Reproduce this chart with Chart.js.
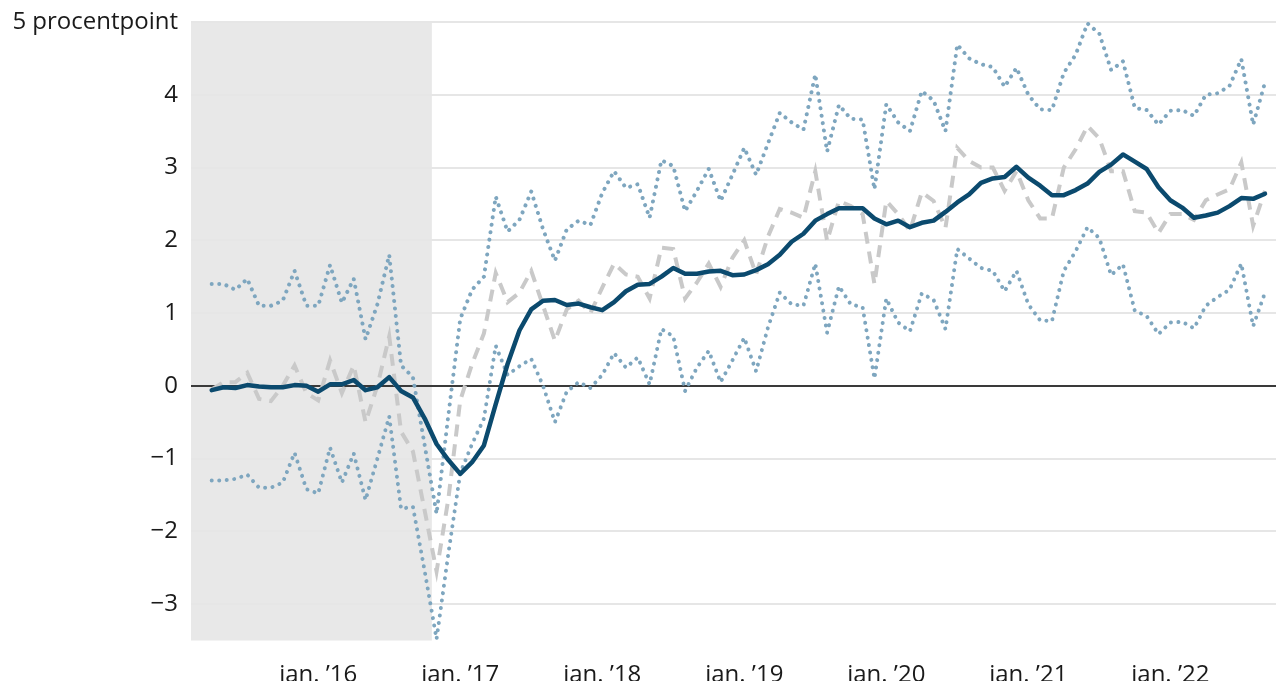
<!DOCTYPE html>
<html>
<head>
<meta charset="utf-8">
<script src="https://cdn.jsdelivr.net/npm/chart.js@4.4.1/dist/chart.umd.min.js"></script>
<style>
html,body{margin:0;padding:0;background:#fff;}
#wrap{width:1276px;height:681px;}
</style>
</head>
<body>
<div id="wrap"><canvas id="c" width="1276" height="681"></canvas></div>
<script>
// Monthly observations, April 2015 - September 2022
const firstMonth = [2015, 4];
const pointCount = 90;

const mainLine = [
 -0.06,-0.02,-0.03,0.01,-0.01,-0.02,-0.02,0.01,0.00,
 -0.08,0.02,0.02,0.08,-0.06,-0.02,0.12,-0.07,-0.16,-0.45,-0.80,-1.02,
 -1.21,-1.05,-0.82,-0.25,0.30,0.76,1.05,1.17,1.18,1.11,1.13,1.08,
 1.04,1.15,1.30,1.39,1.40,1.50,1.62,1.54,1.54,1.57,1.58,1.52,
 1.53,1.59,1.67,1.80,1.98,2.09,2.27,2.36,2.44,2.44,2.44,2.30,
 2.22,2.27,2.18,2.24,2.27,2.39,2.52,2.63,2.79,2.85,2.87,3.01,
 2.86,2.75,2.62,2.62,2.69,2.78,2.94,3.04,3.18,3.08,2.98,2.73,
 2.55,2.45,2.31,2.34,2.38,2.47,2.58,2.57,2.64
];
const upperBand = [
 1.40,1.40,1.32,1.47,1.10,1.10,1.17,1.58,1.10,
 1.10,1.66,1.14,1.47,0.64,1.12,1.80,0.28,0.12,-0.82,-1.76,-0.40,
 0.92,1.32,1.50,2.60,2.12,2.28,2.67,2.15,1.72,2.15,2.27,2.21,
 2.65,2.95,2.72,2.77,2.31,3.10,3.02,2.40,2.68,2.98,2.54,2.90,
 3.27,2.90,3.33,3.75,3.62,3.52,4.28,3.22,3.86,3.67,3.66,2.70,
 3.87,3.62,3.50,4.05,3.92,3.50,4.69,4.50,4.42,4.38,4.11,4.37,
 4.00,3.80,3.79,4.30,4.55,4.98,4.84,4.34,4.46,3.82,3.79,3.59,
 3.78,3.79,3.71,4.00,4.02,4.12,4.49,3.59,4.17
];
const lowerBand = [
 -1.30,-1.30,-1.28,-1.22,-1.40,-1.40,-1.33,-0.92,-1.42,
 -1.48,-0.85,-1.33,-0.93,-1.57,-1.00,-0.42,-1.69,-1.66,-2.55,-3.48,-2.30,
 -1.20,-0.80,-0.45,0.55,0.15,0.27,0.37,0.00,-0.50,-0.08,0.05,-0.03,
 0.15,0.45,0.25,0.39,0.02,0.78,0.68,-0.07,0.25,0.48,0.05,0.35,
 0.66,0.20,0.80,1.28,1.12,1.10,1.68,0.73,1.37,1.12,1.08,0.10,
 1.20,0.87,0.75,1.27,1.18,0.78,1.88,1.75,1.62,1.58,1.30,1.58,
 1.12,0.90,0.89,1.58,1.85,2.18,2.03,1.52,1.67,1.03,0.96,0.71,
 0.87,0.88,0.79,1.10,1.22,1.32,1.68,0.82,1.28
];
const grayLine = [
 -0.05,0.05,0.05,0.18,-0.18,-0.21,0.00,0.28,-0.10,
 -0.20,0.35,-0.10,0.28,-0.50,0.00,0.68,-0.63,-0.90,-1.72,-2.55,-1.55,
 -0.20,0.30,0.72,1.55,1.15,1.28,1.58,1.10,0.62,1.05,1.17,1.00,
 1.35,1.68,1.53,1.50,1.20,1.90,1.88,1.20,1.42,1.68,1.36,1.76,
 2.00,1.53,2.05,2.43,2.38,2.31,2.95,1.99,2.54,2.47,2.36,1.40,
 2.54,2.36,2.13,2.66,2.54,2.17,3.27,3.09,3.00,3.00,2.68,2.95,
 2.55,2.30,2.30,3.00,3.25,3.57,3.40,2.95,2.95,2.40,2.38,2.10,
 2.36,2.36,2.28,2.55,2.63,2.70,3.07,2.20,2.68
];

// x-axis ticks (months after Jan 2016) and their labels
const tickMonths = [0, 12, 24, 36, 48, 60, 72];
const tickLabels = ["jan. \u201916","jan. \u201917","jan. \u201918","jan. \u201919","jan. \u201920","jan. \u201921","jan. \u201922"];
const yTicks = [-3,-2,-1,0,1,2,3,4,5];
const yUnitLabel = "5 procentpoint";
const shadeEndMonth = 9.6; // shaded period ends in autumn 2016

// month offsets relative to Jan 2016 for each observation
const monthOffsets = [];
for (let i = 0; i < pointCount; i++) {
  monthOffsets.push((firstMonth[0] - 2016) * 12 + (firstMonth[1] - 1) + i);
}
const toPts = arr => arr.map((v, i) => ({x: monthOffsets[i], y: v}));

const FONT = {family: "'Open Sans', sans-serif", size: 24};

const shadePlugin = {
  id: 'shade',
  beforeDraw(chart) {
    const {ctx, chartArea: a, scales: {x}} = chart;
    const xe = x.getPixelForValue(shadeEndMonth);
    ctx.save();
    ctx.fillStyle = '#e8e8e8';
    ctx.fillRect(a.left, a.top, xe - a.left, a.bottom - a.top);
    ctx.restore();
  }
};

const dotted = {borderColor: '#7ea6bf', borderWidth: 4, borderDash: [0.01, 7.5], borderCapStyle: 'round', borderJoinStyle: 'round'};

new Chart(document.getElementById('c'), {
  type: 'line',
  data: {
    datasets: [
      {label: 'main', data: toPts(mainLine), borderColor: '#0b4a6e', borderWidth: 4.5, borderJoinStyle: 'round', borderCapStyle: 'round'},
      Object.assign({label: 'upper', data: toPts(upperBand)}, dotted),
      Object.assign({label: 'lower', data: toPts(lowerBand)}, dotted),
      {label: 'gray', data: toPts(grayLine), borderColor: '#c9c9c9', borderWidth: 4, borderDash: [12, 8]}
    ]
  },
  options: {
    responsive: false,
    animation: false,
    events: [],
    layout: {padding: {top: 22, right: 0, bottom: 0, left: 0}},
    elements: {point: {radius: 0}, line: {tension: 0, fill: false}},
    plugins: {legend: {display: false}, tooltip: {enabled: false}},
    scales: {
      x: {
        type: 'linear',
        min: -10.75,
        max: 80.93,
        grid: {display: false},
        border: {display: false},
        afterBuildTicks: s => { s.ticks = tickMonths.map(v => ({value: v})); },
        afterFit: s => { s.height = 40.5; s.paddingLeft = 0; s.paddingRight = 0; },
        ticks: {
          autoSkip: false, maxRotation: 0, padding: 12,
          color: '#1a1a1a', font: FONT,
          callback: v => { const k = tickMonths.indexOf(v); return k >= 0 ? tickLabels[k] : ''; }
        }
      },
      y: {
        min: -3.5,
        max: 5,
        border: {display: false},
        grid: {
          drawTicks: false,
          lineWidth: 2,
          color: c => (c.tick && c.tick.value === 0) ? '#3a3a3a' : '#e6e6e6'
        },
        afterBuildTicks: s => { s.ticks = yTicks.map(v => ({value: v})); },
        afterFit: s => { s.width = 191; s.paddingTop = 0; s.paddingBottom = 0; },
        ticks: {
          padding: 13, color: '#1a1a1a', font: FONT,
          callback: v => v === 5 ? yUnitLabel : (v < 0 ? '\u2212' + Math.abs(v) : String(v))
        }
      }
    }
  },
  plugins: [shadePlugin]
});
</script>
</body>
</html>
